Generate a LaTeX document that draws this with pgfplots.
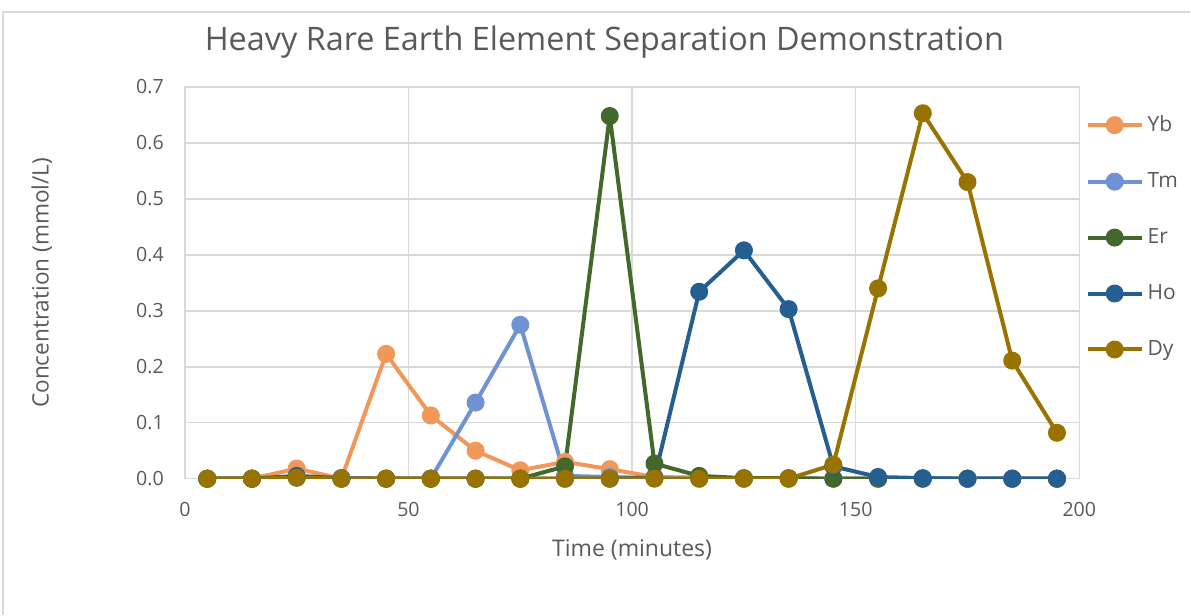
\documentclass[border=0pt]{standalone}
\usepackage{pgfplots}
\pgfplotsset{compat=1.18}
\usepackage{fontspec}
\setmainfont{Open Sans}
\definecolor{cYb}{HTML}{F1975A}
\definecolor{cTm}{HTML}{6E92D4}
\definecolor{cEr}{HTML}{43682B}
\definecolor{cHo}{HTML}{255E91}
\definecolor{cDy}{HTML}{997300}
\definecolor{txt}{RGB}{89,89,89}
\definecolor{grd}{RGB}{217,217,217}
\begin{document}
\begin{tikzpicture}
\path (0,0) rectangle (595.5pt,307.5pt);
\draw[grd, line width=0.75pt] (1.5pt,0) -- (1.5pt,301.5pt) -- (595.5pt,301.5pt);
\begin{axis}[
  at={(92.5pt,68pt)}, anchor=south west,
  scale only axis, width=447.5pt, height=196pt,
  xmin=0, xmax=200, ymin=0, ymax=0.7,
  xtick={0,50,100,150,200},
  ytick={0,0.1,0.2,0.3,0.4,0.5,0.6,0.7},
  yticklabel style={/pgf/number format/fixed, /pgf/number format/fixed zerofill, /pgf/number format/precision=1, xshift=-7pt},
  /pgf/number format/assume math mode=true,
  tick style={draw=none},
  grid=major,
  major grid style={grd, line width=0.75pt},
  axis line style={grd, line width=0.75pt},
  ticklabel style={font=\fontsize{9.8pt}{11pt}\selectfont, text=txt},
  xticklabel style={yshift=-8.5pt},
  title={Heavy Rare Earth Element Separation Demonstration},
  title style={at={(axis description cs:0.469,1.085)}, anchor=center, font=\fontsize{16.2pt}{19pt}\selectfont, text=txt},
  xlabel={Time (minutes)},
  xlabel style={at={(axis description cs:0.5,-0.181)}, anchor=center, font=\fontsize{11.5pt}{13pt}\selectfont, text=txt},
  ylabel={Concentration (mmol/L)},
  ylabel style={at={(axis description cs:-0.16,0.5)}, anchor=center, font=\fontsize{11.3pt}{13pt}\selectfont, text=txt},
  legend style={at={(1.0,0.948)}, anchor=north west, draw=none, fill=none,
    font=\fontsize{10.5pt}{12pt}\selectfont, text=txt, row sep=15pt},
  legend cell align=left,
  legend image code/.code={
    \draw[#1, mark=none] (0pt,0pt) -- (27pt,0pt);
    \draw[#1, only marks] plot coordinates {(13.5pt,0pt)};
  },
  every axis plot/.append style={line width=2pt, mark=*, mark size=3.5pt, line join=round},
]
\addplot[cYb, mark options={fill=cYb, draw=cYb}] coordinates {
(5,0) (15,0) (25,0.018) (35,0) (45,0.223) (55,0.113) (65,0.050) (75,0.015) (85,0.030) (95,0.017) (105,0.003) (115,0.002) (125,0) (135,0) (145,0) (155,0) (165,0) (175,0) (185,0) (195,0)};
\addlegendentry{Yb}
\addplot[cTm, mark options={fill=cTm, draw=cTm}] coordinates {
(5,0) (15,0) (25,0.002) (35,0) (45,0) (55,0) (65,0.136) (75,0.275) (85,0.005) (95,0.003) (105,0.001) (115,0) (125,0) (135,0) (145,0) (155,0) (165,0) (175,0) (185,0) (195,0)};
\addlegendentry{Tm}
\addplot[cEr, mark options={fill=cEr, draw=cEr}] coordinates {
(5,0) (15,0) (25,0.002) (35,0) (45,0) (55,0) (65,0) (75,0) (85,0.022) (95,0.648) (105,0.027) (115,0.005) (125,0.001) (135,0.001) (145,0) (155,0) (165,0) (175,0) (185,0) (195,0)};
\addlegendentry{Er}
\addplot[cHo, mark options={fill=cHo, draw=cHo}] coordinates {
(5,0) (15,0) (25,0.005) (35,0.001) (45,0) (55,0) (65,0) (75,0) (85,0) (95,0) (105,0.002) (115,0.334) (125,0.408) (135,0.303) (145,0.022) (155,0.003) (165,0.001) (175,0) (185,0) (195,0)};
\addlegendentry{Ho}
\addplot[cDy, mark options={fill=cDy, draw=cDy}] coordinates {
(5,0) (15,0) (25,0.002) (35,0) (45,0) (55,0) (65,0) (75,0) (85,0) (95,0) (105,0) (115,0) (125,0) (135,0) (145,0.025) (155,0.340) (165,0.653) (175,0.530) (185,0.211) (195,0.082)};
\addlegendentry{Dy}
\end{axis}
\end{tikzpicture}
\end{document}
